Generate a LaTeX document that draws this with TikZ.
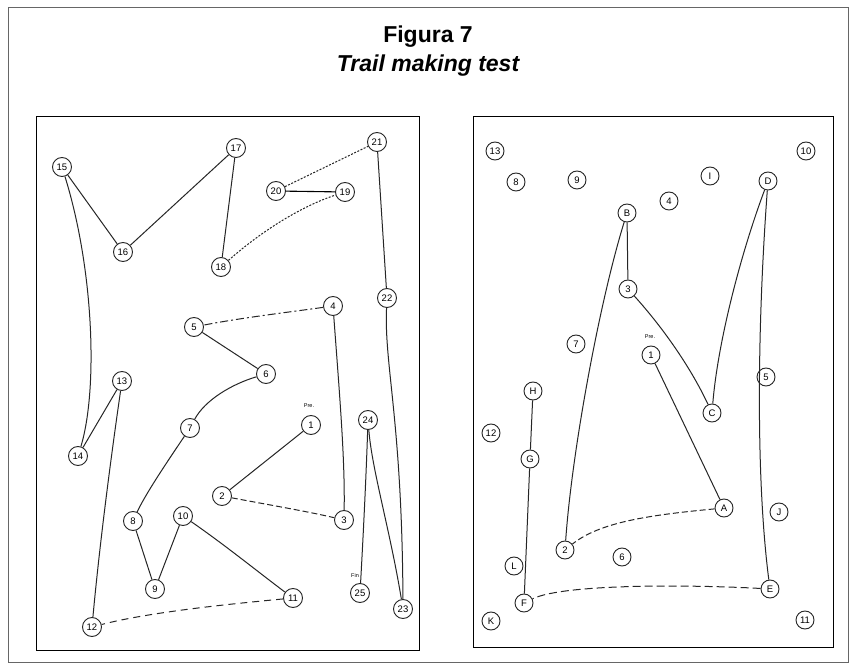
\documentclass[tikz,border=0pt]{standalone}
\usepackage{fontspec}
\setmainfont{Liberation Sans}
\begin{document}
\begin{tikzpicture}[x=1pt,y=-1pt]
    \tikzstyle{every node}+=[inner sep=0pt]
    \tikzstyle{ring}=[circle,draw=black!85,line width=0.9pt,minimum size=19pt,font=\fontsize{9.5}{9.5}\selectfont]
    \tikzstyle{ringb}=[ring,minimum size=18pt]
    \tikzstyle{trail}=[black!85,line width=1pt]
    \tikzstyle{gap}=[trail,dash pattern=on 6pt off 3pt]
    \tikzstyle{fine}=[trail,dash pattern=on 2pt off 1.5pt]
    \tikzstyle{note}=[font=\fontsize{5.5}{5.5}\selectfont]
    \useasboundingbox (0,0) rectangle (855,668);
    \fill [white] (0,0) rectangle (855,668);
    \draw [black!60,line width=1pt] (8,8) rectangle (848,662);
    \node [font=\bfseries\fontsize{23}{23}\selectfont] (title) at (428,37) {Figura 7};
    \node [font=\bfseries\itshape\fontsize{23}{23}\selectfont] (subtitle) at (428,66) {Trail making test};
    \draw [black,line width=0.8pt] (36,116) rectangle (419,650);
    \draw [black,line width=0.8pt] (473,116) rectangle (833,647);
    % sheet A
    \node [ring] (a1) at (311,425) {1};
    \node [ring] (a2) at (222,496) {2};
    \node [ring] (a3) at (344,520) {3};
    \node [ring] (a4) at (333,306) {4};
    \node [ring] (a5) at (194,327) {5};
    \node [ring] (a6) at (266,374) {6};
    \node [ring] (a7) at (190,428) {7};
    \node [ring] (a8) at (133,521) {8};
    \node [ring] (a9) at (155,589) {9};
    \node [ring] (a10) at (183,516) {10};
    \node [ring] (a11) at (293,598) {11};
    \node [ring] (a12) at (92,627) {12};
    \node [ring] (a13) at (122,381) {13};
    \node [ring] (a14) at (78,456) {14};
    \node [ring] (a15) at (62,167) {15};
    \node [ring] (a16) at (123,252) {16};
    \node [ring] (a17) at (236,148) {17};
    \node [ring] (a18) at (221,267) {18};
    \node [ring] (a19) at (345,192) {19};
    \node [ring] (a20) at (276,191) {20};
    \node [ring] (a21) at (377,142) {21};
    \node [ring] (a22) at (387,298) {22};
    \node [ring] (a23) at (403,609) {23};
    \node [ring] (a24) at (368,420) {24};
    \node [ring] (a25) at (360,593) {25};
    \node [note] (preA) at (309,406) {Pre.};
    \node [note] (finA) at (355,576) {Fin};
    \draw [trail] (a1) -- (a2);
    \draw [gap] (a2) .. controls (270,505) and (310,512) .. (a3);
    \draw [trail] (a4) .. controls (340,400) and (345,460) .. (a3);
    \draw [trail,dash pattern=on 8pt off 3pt on 2pt off 3pt] (a4) .. controls (290,312) and (240,318) .. (a5);
    \draw [trail] (a5) -- (a6);
    \draw [trail] (a6) .. controls (232,384) and (205,400) .. (a7);
    \draw [trail] (a7) .. controls (165,465) and (145,495) .. (a8);
    \draw [trail] (a8) -- (a9);
    \draw [trail] (a9) -- (a10);
    \draw [trail] (a10) .. controls (225,545) and (262,575) .. (a11);
    \draw [trail,dash pattern=on 7pt off 5pt] (a11) .. controls (230,604) and (150,612) .. (a12);
    \draw [trail] (a12) .. controls (100,540) and (112,450) .. (a13);
    \draw [trail] (a13) -- (a14);
    \draw [trail] (a14) .. controls (98,390) and (94,270) .. (a15);
    \draw [trail] (a15) -- (a16);
    \draw [trail] (a16) -- (a17);
    \draw [trail] (a17) -- (a18);
    \draw [fine] (a18) .. controls (265,228) and (305,205) .. (a19);
    \draw [black,line width=1.1pt] (a19) -- (a20);
    \draw [fine] (a20) -- (a21);
    \draw [trail] (a21) -- (a22);
    \draw [trail] (a22) .. controls (384,365) and (402,420) .. (a23);
    \draw [trail] (a23) .. controls (390,530) and (372,470) .. (a24);
    \draw [trail] (a24) .. controls (366,480) and (363,540) .. (a25);
    % sheet B
    \node [ringb] (b1) at (651,355) {1};
    \node [ringb] (bA) at (724,508) {A};
    \node [ringb] (b2) at (565,550) {2};
    \node [ringb] (bB) at (627,213) {B};
    \node [ringb] (b3) at (628,289) {3};
    \node [ringb] (bC) at (712,413) {C};
    \node [ringb] (b4) at (669,201) {4};
    \node [ringb] (bD) at (768,181) {D};
    \node [ringb] (b5) at (766,377) {5};
    \node [ringb] (bE) at (770,589) {E};
    \node [ringb] (b6) at (622,557) {6};
    \node [ringb] (bF) at (524,603) {F};
    \node [ringb] (b7) at (576,344) {7};
    \node [ringb] (bG) at (530,459) {G};
    \node [ringb] (b8) at (516,182) {8};
    \node [ringb] (bH) at (533,391) {H};
    \node [ringb] (b9) at (577,180) {9};
    \node [ringb] (bI) at (710,176) {I};
    \node [ringb] (b10) at (806,151) {10};
    \node [ringb] (bJ) at (779,512) {J};
    \node [ringb] (b11) at (805,620) {11};
    \node [ringb] (bK) at (491,621) {K};
    \node [ringb] (b12) at (491,433) {12};
    \node [ringb] (bL) at (514,566) {L};
    \node [ringb] (b13) at (495,151) {13};
    \node [note] (preB) at (650,337) {Pre.};
    \draw [trail] (b1) -- (bA);
    \draw [gap] (bA) .. controls (650,515) and (600,522) .. (b2);
    \draw [trail] (b2) .. controls (572,450) and (600,300) .. (bB);
    \draw [trail] (bB) -- (b3);
    \draw [trail] (b3) .. controls (665,330) and (692,370) .. (bC);
    \draw [trail] (bC) .. controls (718,340) and (742,250) .. (bD);
    \draw [trail] (bD) .. controls (757,330) and (756,480) .. (bE);
    \draw [trail,dash pattern=on 8pt off 4pt] (bE) .. controls (700,585) and (565,583) .. (bF);
    \draw [trail] (bF) -- (bG);
    \draw [trail] (bG) -- (bH);
\end{tikzpicture}
\end{document}
